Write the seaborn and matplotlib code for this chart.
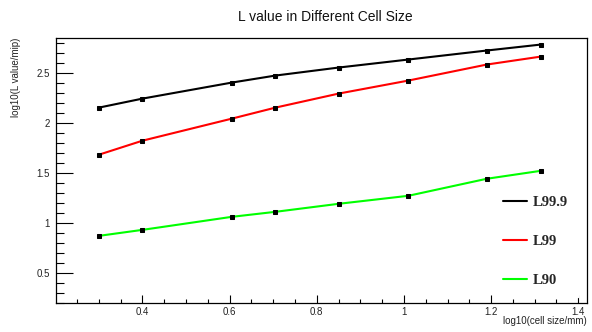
import matplotlib
matplotlib.use("Agg")
import matplotlib.pyplot as plt
from matplotlib.lines import Line2D
from matplotlib.ticker import MultipleLocator, FormatStrFormatter
import seaborn as sns
import pandas as pd

# log10 of the cell size (mm)
log_cell_size = [0.300, 0.400, 0.605, 0.705, 0.850, 1.010, 1.190, 1.315]

# log10 of the L value (mip) for each quantile
l999 = [2.15, 2.24, 2.40, 2.47, 2.55, 2.63, 2.72, 2.78]
l99 = [1.68, 1.82, 2.04, 2.15, 2.29, 2.42, 2.58, 2.66]
l90 = [0.87, 0.93, 1.06, 1.11, 1.19, 1.27, 1.44, 1.52]

series_names = ["L99.9", "L99", "L90"]
series_values = [l999, l99, l90]
series_colors = ["#000000", "#ff0000", "#00ff00"]

sns.set_theme(style="white")
plt.rcParams["font.family"] = ["Liberation Sans", "DejaVu Sans"]

W, H = 592, 332
fig = plt.figure(figsize=(W / 100, H / 100), dpi=100)
ax = fig.add_axes([55.7 / W, 1 - 303 / H, (587 - 55.7) / W, (303 - 37.5) / H])

for name, vals, col in zip(series_names, series_values, series_colors):
    df = pd.DataFrame({"x": log_cell_size, "y": vals})
    sns.lineplot(data=df, x="x", y="y", ax=ax, color=col, linewidth=1.5,
                 marker="s", markersize=3.0, markerfacecolor="black",
                 markeredgecolor="black", sort=False, legend=False, zorder=3)

ax.set_xlim(0.201, 1.42)
ax.set_ylim(0.2, 2.85)
ax.set_xlabel("")
ax.set_ylabel("")

ax.xaxis.set_major_locator(MultipleLocator(0.2))
ax.xaxis.set_minor_locator(MultipleLocator(0.05))
ax.yaxis.set_major_locator(MultipleLocator(0.5))
ax.yaxis.set_minor_locator(MultipleLocator(0.1))
ax.xaxis.set_major_formatter(FormatStrFormatter("%g"))
ax.yaxis.set_major_formatter(FormatStrFormatter("%g"))

ax.tick_params(axis="both", which="both", direction="in", color="black",
               labelsize=7, labelcolor="#222222", width=0.8,
               bottom=True, left=True, top=False, right=False)
ax.tick_params(axis="x", which="major", length=6, pad=3)
ax.tick_params(axis="x", which="minor", length=3)
ax.tick_params(axis="y", which="major", length=12, pad=4)
ax.tick_params(axis="y", which="minor", length=6)

for sp in ax.spines.values():
    sp.set_color("black")
    sp.set_linewidth(0.9)

fig.text(325 / W, 1 - 17 / H, "L value in Different Cell Size",
         ha="center", va="center", fontsize=10, color="#111111")
fig.text(16 / W, 1 - 37.5 / H, "log10(L value/mip)", rotation=90,
         ha="center", va="top", fontsize=7, color="#222222")
fig.text(587 / W, 1 - 321 / H, "log10(cell size/mm)",
         ha="right", va="center", fontsize=7, color="#222222")

handles = [Line2D([], [], color=c, linewidth=1.5) for c in series_colors]
leg = fig.legend(handles, series_names, loc="upper left",
                 bbox_to_anchor=(493 / W, 1 - 186 / H),
                 frameon=True, facecolor="white", edgecolor="white",
                 framealpha=1.0, fancybox=False, borderpad=0.7,
                 borderaxespad=0, handlelength=1.65, handletextpad=0.35,
                 labelspacing=1.75,
                 prop={"family": "Liberation Serif", "weight": "bold", "size": 10.5})
leg.set_zorder(10)

fig.savefig("out.png", dpi=100, facecolor="white")
